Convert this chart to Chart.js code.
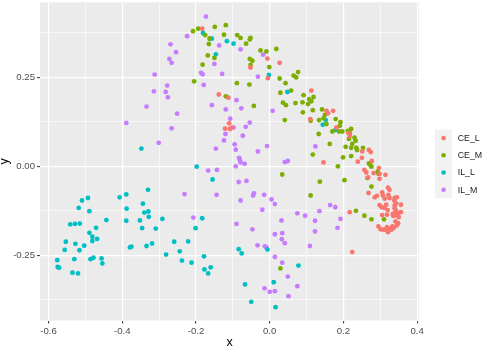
<!DOCTYPE html>
<html lang="en">
<head>
<meta charset="UTF-8">
<title>Scatter x / y</title>
<script src="https://cdn.jsdelivr.net/npm/chart.js"></script>
<style>
    html, body { margin: 0; padding: 0; background: #fff; }
</style>
</head>
<body>
<canvas id="myChart" width="484" height="347"></canvas>
<script>
    // groups and their colours (ggplot default hue palette)
    const categories = ['CE_L', 'CE_M', 'IL_L', 'IL_M'];
    const colors = ['#F8766D', '#7CAE00', '#00BFC4', '#C77CFF'];

    // axis ticks
    const xMajor = [-0.6, -0.4, -0.2, 0.0, 0.2, 0.4];
    const xLabels = ['-0.6', '-0.4', '-0.2', '0.0', '0.2', '0.4'];
    const xMinor = [-0.5, -0.3, -0.1, 0.1, 0.3];
    const yMajor = [-0.25, 0.0, 0.25];
    const yLabels = ['-0.25', '0.00', '0.25'];
    const yMinor = [-0.375, -0.125, 0.125, 0.375];
    const xRange = [-0.623, 0.405];
    const yRange = [-0.4335, 0.461];

    // points, [x, y]
    const CE_L = [
        [-0.183, 0.387], [-0.006, 0.303], [0.027, 0.291], [-0.052, 0.278], [-0.005, 0.248], [-0.138, 0.202],
        [-0.112, 0.193], [0.113, 0.213], [0.154, 0.156], [0.158, 0.149], [0.172, 0.156], [0.110, 0.133],
        [0.181, 0.109], [-0.110, 0.121], [-0.121, 0.106], [-0.108, 0.105], [-0.103, 0.109], [0.146, 0.011],
        [0.224, -0.241], [0.217, -0.129], [0.214, 0.093], [0.217, 0.085],
        [0.251, 0.042], [0.269, 0.046], [0.274, 0.040], [0.250, 0.024], [0.277, 0.015], [0.239, 0.013],
        [0.296, -0.005], [0.257, -0.010], [0.262, -0.017], [0.282, -0.019], [0.298, -0.021], [0.314, -0.024],
        [0.267, -0.031], [0.298, -0.035], [0.321, -0.060], [0.325, -0.066],
        [0.268, -0.075], [0.285, -0.087], [0.291, -0.083], [0.305, -0.073], [0.307, -0.082], [0.322, -0.080],
        [0.325, -0.089], [0.312, -0.091], [0.339, -0.089], [0.345, -0.087], [0.338, -0.096], [0.343, -0.104],
        [0.298, -0.109], [0.316, -0.108], [0.339, -0.110], [0.356, -0.108], [0.304, -0.115], [0.311, -0.117],
        [0.320, -0.123], [0.339, -0.118], [0.343, -0.125], [0.334, -0.134], [0.340, -0.130], [0.349, -0.132],
        [0.356, -0.129], [0.305, -0.137], [0.318, -0.136], [0.335, -0.139], [0.343, -0.138], [0.350, -0.143],
        [0.341, -0.155], [0.348, -0.160], [0.345, -0.166], [0.333, -0.169], [0.337, -0.173], [0.295, -0.169],
        [0.301, -0.177], [0.308, -0.178], [0.318, -0.171], [0.316, -0.179], [0.321, -0.185], [0.325, -0.176],
        [0.330, -0.178]
    ];
    const CE_M = [
        [-0.208, 0.380], [-0.194, 0.387], [-0.149, 0.392], [-0.119, 0.397], [-0.175, 0.369], [-0.163, 0.359],
        [-0.124, 0.370], [-0.088, 0.369], [-0.079, 0.361], [-0.064, 0.345], [-0.054, 0.357], [-0.052, 0.361],
        [-0.165, 0.344], [-0.168, 0.312], [-0.150, 0.305], [-0.182, 0.286], [-0.205, 0.239], [-0.089, 0.234],
        [-0.119, 0.197], [-0.025, 0.326], [-0.009, 0.323], [0.018, 0.330], [-0.054, 0.302], [-0.047, 0.297],
        [-0.052, 0.285], [-0.001, 0.279], [0.027, 0.247], [0.065, 0.255], [0.072, 0.250], [0.077, 0.265],
        [-0.055, 0.230], [0.043, 0.234], [0.029, 0.207], [0.058, 0.213], [0.092, 0.200], [0.119, 0.195],
        [0.036, 0.179], [0.044, 0.172], [0.070, 0.178], [0.089, 0.180], [0.107, 0.189], [0.113, 0.183],
        [0.104, 0.175], [-0.043, 0.170], [0.090, 0.152], [0.142, 0.160], [0.117, 0.158], [0.146, 0.135],
        [0.179, 0.133], [0.041, 0.130], [0.150, 0.145], [0.134, 0.130], [0.111, 0.128], [0.154, 0.119],
        [0.192, 0.124], [0.190, 0.114], [0.170, 0.098], [0.188, 0.098], [0.197, 0.098], [0.212, 0.100],
        [0.221, 0.105], [0.217, 0.093], [0.215, 0.077], [0.230, 0.081], [0.233, 0.072], [0.224, 0.063],
        [0.206, 0.055], [0.221, 0.052], [0.235, 0.052], [0.237, 0.046], [0.253, 0.052], [0.163, 0.063],
        [0.199, 0.025], [0.221, 0.029], [0.133, 0.091], [0.117, 0.033], [0.185, 0.000], [0.203, -0.039],
        [0.136, -0.043], [0.111, -0.082], [0.034, -0.023], [0.269, 0.008], [0.273, 0.004], [0.276, -0.001],
        [0.293, -0.015], [0.295, -0.021], [0.265, -0.033], [0.276, -0.057], [0.234, -0.125], [0.257, -0.139],
        [0.276, -0.149], [0.310, -0.149], [0.029, -0.287]
    ];
    const IL_L = [
        [-0.181, 0.375], [-0.162, 0.359], [-0.157, 0.359], [-0.116, 0.352], [-0.098, 0.345], [-0.146, 0.315],
        [-0.002, 0.257], [0.048, 0.209], [0.144, 0.117], [0.152, 0.130], [0.178, 0.102],
        [-0.348, 0.050], [-0.198, -0.001], [-0.155, -0.037],
        [-0.330, -0.066], [-0.389, -0.079], [-0.407, -0.087], [-0.493, -0.089], [-0.509, -0.096], [-0.518, -0.117],
        [-0.388, -0.119], [-0.344, -0.105], [-0.489, -0.126], [-0.340, -0.130], [-0.329, -0.127], [-0.328, -0.142],
        [-0.291, -0.148], [-0.443, -0.151], [-0.389, -0.153], [-0.352, -0.152], [-0.541, -0.163], [-0.528, -0.162],
        [-0.515, -0.161], [-0.346, -0.174], [-0.309, -0.175], [-0.471, -0.173], [-0.489, -0.187], [-0.481, -0.198],
        [-0.468, -0.204], [-0.481, -0.210], [-0.553, -0.212], [-0.527, -0.218], [-0.503, -0.223], [-0.516, -0.236],
        [-0.556, -0.235], [-0.379, -0.228], [-0.375, -0.226], [-0.334, -0.224], [-0.319, -0.217], [-0.259, -0.212],
        [-0.486, -0.261], [-0.478, -0.257], [-0.456, -0.259], [-0.454, -0.273], [-0.530, -0.261], [-0.576, -0.264],
        [-0.281, -0.248], [-0.575, -0.283], [-0.571, -0.285], [-0.535, -0.299], [-0.520, -0.301],
        [-0.183, -0.146], [-0.201, -0.174], [-0.221, -0.211], [-0.244, -0.239], [-0.238, -0.265], [-0.212, -0.271],
        [-0.178, -0.253], [-0.177, -0.290], [-0.160, -0.284], [-0.167, -0.301], [-0.084, -0.233], [-0.076, -0.245],
        [-0.006, -0.234], [0.078, -0.279], [-0.067, -0.332], [0.011, -0.326], [-0.050, -0.381], [0.016, -0.396]
    ];
    const IL_M = [
        [-0.173, 0.421], [-0.224, 0.366], [-0.137, 0.340], [-0.269, 0.343], [-0.254, 0.321], [-0.272, 0.302],
        [-0.266, 0.291], [-0.150, 0.288], [-0.186, 0.263], [-0.182, 0.259], [-0.129, 0.260], [-0.312, 0.258],
        [-0.278, 0.227], [-0.179, 0.229], [-0.314, 0.211], [-0.282, 0.209], [-0.276, 0.194], [-0.090, 0.186],
        [-0.334, 0.168], [-0.157, 0.172], [-0.119, 0.160], [-0.251, 0.148], [-0.107, 0.134], [-0.079, 0.329],
        [-0.018, 0.314], [-0.032, 0.252], [-0.077, 0.163], [0.008, 0.156], [-0.389, 0.122], [-0.266, 0.107],
        [-0.301, 0.066], [-0.120, 0.091], [-0.124, 0.073], [-0.098, 0.109], [-0.065, 0.111], [-0.054, 0.123],
        [-0.073, 0.086], [-0.146, 0.050], [-0.095, 0.062], [-0.092, 0.047], [-0.083, 0.024], [-0.081, 0.018],
        [-0.079, 0.011], [-0.068, 0.007], [-0.092, 0.000], [-0.032, 0.042], [-0.007, 0.057], [-0.167, -0.012],
        [-0.143, -0.010], [-0.084, -0.044], [-0.063, -0.041], [-0.231, -0.078], [-0.144, -0.080], [-0.043, -0.076],
        [-0.045, -0.082], [-0.015, -0.080], [0.005, -0.093], [0.014, -0.106], [-0.079, -0.096], [-0.020, -0.122],
        [0.041, 0.012], [0.049, 0.015], [0.124, 0.056], [0.164, -0.109], [0.178, -0.115], [0.135, -0.126],
        [0.075, -0.132], [0.096, -0.139], [0.192, -0.148], [0.123, -0.153], [0.032, -0.152], [0.123, -0.183],
        [0.184, -0.173], [0.034, -0.188], [0.033, -0.205], [0.041, -0.216], [0.109, -0.224], [0.034, -0.271],
        [0.049, -0.310], [0.075, -0.337], [0.051, -0.365], [-0.207, -0.144], [-0.090, -0.162], [-0.047, -0.177],
        [0.014, -0.191], [-0.033, -0.222], [-0.013, -0.225], [-0.009, -0.228], [0.014, -0.255], [-0.014, -0.343],
        [0.000, -0.353], [0.014, -0.351]
    ];
    const series = [CE_L, CE_M, IL_L, IL_M];

    const FONT = '"Liberation Sans", Arial, Helvetica, sans-serif';
    const near = (a, b) => Math.abs(a - b) < 1e-6;
    const isMajor = (list, v) => list.some(m => near(m, v));

    // grey panel behind everything
    const panelBg = {
        id: 'panelBg',
        beforeDraw(chart) {
            const {ctx, chartArea: a} = chart;
            ctx.save();
            ctx.fillStyle = '#EBEBEB';
            ctx.fillRect(a.left, a.top, a.right - a.left, a.bottom - a.top);
            ctx.restore();
        }
    };

    // ggplot-like legend on the right
    const sideLegend = {
        id: 'sideLegend',
        afterDraw(chart) {
            const ctx = chart.ctx;
            const x0 = chart.chartArea.right + 16;
            const y0 = 129.5;
            const key = 17.2;
            ctx.save();
            chart.data.datasets.forEach((ds, i) => {
                const y = y0 + i * key;
                ctx.fillStyle = '#F2F2F2';
                ctx.fillRect(x0, y, key, key);
                ctx.beginPath();
                ctx.arc(x0 + key / 2, y + key / 2, 2.3, 0, Math.PI * 2);
                ctx.fillStyle = ds.backgroundColor;
                ctx.fill();
                ctx.fillStyle = '#1A1A1A';
                ctx.font = '8.8px ' + FONT;
                ctx.textBaseline = 'middle';
                ctx.textAlign = 'left';
                ctx.fillText(ds.label, x0 + key + 5.5, y + key / 2 + 0.5);
            });
            ctx.restore();
        }
    };

    const tickFont = {family: FONT, size: 9.6};
    const titleFont = {family: FONT, size: 12.5, lineHeight: 0.7};

    new Chart(document.getElementById('myChart'), {
        type: 'scatter',
        data: {
            datasets: categories.map((name, i) => ({
                label: name,
                data: series[i].map(p => ({x: p[0], y: p[1]})),
                backgroundColor: colors[i],
                borderWidth: 0,
                pointRadius: 2.4,
                pointHoverRadius: 2.4
            }))
        },
        options: {
            responsive: false,
            animation: false,
            layout: {padding: {top: 1, right: 65, bottom: 0, left: 0}},
            plugins: {
                legend: {display: false},
                tooltip: {enabled: false}
            },
            scales: {
                x: {
                    type: 'linear',
                    min: xRange[0],
                    max: xRange[1],
                    afterBuildTicks: s => {
                        s.ticks = xMajor.concat(xMinor).sort((a, b) => a - b).map(v => ({value: v}));
                    },
                    afterFit: s => {
                        s.height = 26.5;
                        s.paddingLeft = 0;
                        s.paddingRight = 0;
                    },
                    border: {display: false},
                    grid: {
                        color: '#FFFFFF',
                        lineWidth: c => isMajor(xMajor, c.tick.value) ? 1.2 : 0.6,
                        tickColor: c => isMajor(xMajor, c.tick.value) ? '#333333' : 'rgba(0,0,0,0)',
                        tickLength: 3,
                        tickWidth: 1
                    },
                    ticks: {
                        autoSkip: false,
                        maxRotation: 0,
                        padding: 2,
                        color: '#4D4D4D',
                        font: tickFont,
                        callback: v => {
                            const i = xMajor.findIndex(m => near(m, v));
                            return i >= 0 ? xLabels[i] : '';
                        }
                    },
                    title: {display: true, text: 'x', color: '#000', font: titleFont, padding: 0}
                },
                y: {
                    type: 'linear',
                    min: yRange[0],
                    max: yRange[1],
                    afterBuildTicks: s => {
                        s.ticks = yMajor.concat(yMinor).sort((a, b) => a - b).map(v => ({value: v}));
                    },
                    afterFit: s => {
                        s.width = 40;
                        s.paddingTop = 0;
                        s.paddingBottom = 0;
                    },
                    border: {display: false},
                    grid: {
                        color: '#FFFFFF',
                        lineWidth: c => isMajor(yMajor, c.tick.value) ? 1.2 : 0.6,
                        tickColor: c => isMajor(yMajor, c.tick.value) ? '#333333' : 'rgba(0,0,0,0)',
                        tickLength: 3,
                        tickWidth: 1
                    },
                    ticks: {
                        autoSkip: false,
                        padding: 2,
                        color: '#4D4D4D',
                        font: tickFont,
                        callback: v => {
                            const i = yMajor.findIndex(m => near(m, v));
                            return i >= 0 ? yLabels[i] : '';
                        }
                    },
                    title: {display: true, text: 'y', color: '#000', font: titleFont, padding: 0}
                }
            }
        },
        plugins: [panelBg, sideLegend]
    });
</script>
</body>
</html>
